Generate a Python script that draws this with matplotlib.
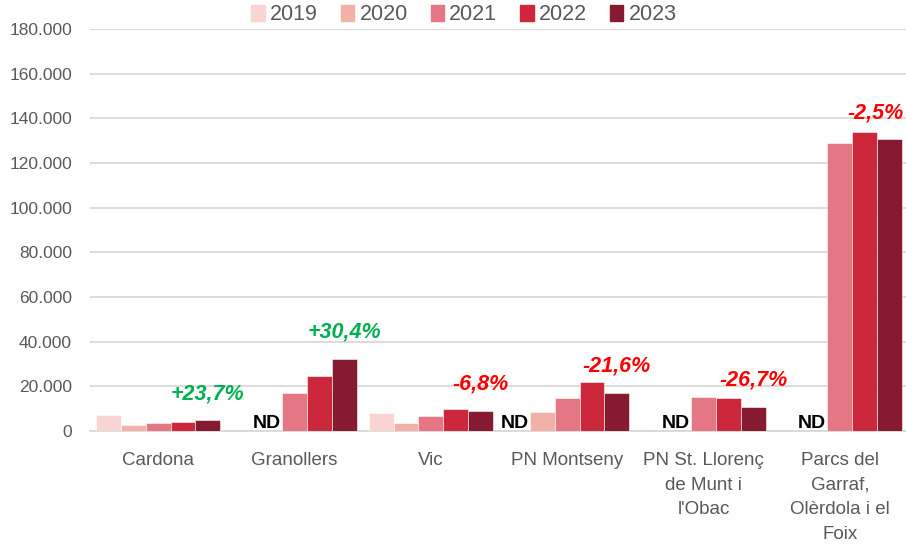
import matplotlib.pyplot as plt
import numpy as np
from matplotlib.patches import Patch
from matplotlib.ticker import FuncFormatter

plt.rcParams['font.family'] = ['Liberation Sans', 'DejaVu Sans']

# Visitants per equipament i any (NaN = sense dades)
llocs = ['Cardona', 'Granollers', 'Vic', 'PN Montseny',
         "PN St. Llorenç\nde Munt i\nl'Obac",
         'Parcs del\nGarraf,\nOlèrdola i el\nFoix']
anys = ['2019', '2020', '2021', '2022', '2023']
v2019 = [7200, np.nan, 7900, np.nan, np.nan, np.nan]
v2020 = [2700, np.nan, 3450, 8500, np.nan, np.nan]
v2021 = [3700, 16900, 6600, 14600, 15200, 128900]
v2022 = [4000, 24800, 9700, 21800, 14800, 134000]
v2023 = [4950, 32340, 9040, 17090, 10850, 130650]
variacio = [23.7, 30.4, -6.8, -21.6, -26.7, -2.5]
# posició (índex d'any) on s'escriu "ND"
nd_pos = [None, 1, None, 0, 1, 1]

colors = ['#F8D5D3', '#F2B1A6', '#E57785', '#CC273B', '#861A31']
gris = '#595959'

fig = plt.figure(figsize=(9.06, 5.47), dpi=100)
ax = fig.add_axes([90 / 906, 1 - 431 / 547, 818 / 906, 402 / 547])

x = np.arange(len(llocs))
w = 0.182
series = [v2019, v2020, v2021, v2022, v2023]
for i, (vals, c) in enumerate(zip(series, colors)):
    ax.bar(x + (i - 2) * w, vals, w, color=c, edgecolor='white',
           linewidth=0.4, zorder=3)

for g, p in enumerate(nd_pos):
    if p is not None:
        ax.text(g + (p - 2) * w - 0.02, 3200, 'ND', ha='center', va='center',
                fontsize=14, fontweight='bold', color='black', zorder=4)

for g, pct in enumerate(variacio):
    txt = f'{pct:+.1f}%'.replace('.', ',')
    col = '#00B050' if pct > 0 else '#FF0000'
    dx = -10 if g == len(llocs) - 1 else 0
    ax.annotate(txt, (g + 2 * w, v2023[g]), xytext=(dx, 19),
                textcoords='offset points', ha='center', va='center',
                fontsize=15.5, fontweight='bold', fontstyle='italic',
                color=col, zorder=4)

ax.set_xlim(-0.5, len(llocs) - 0.5)
ax.set_ylim(0, 180000)
ax.set_yticks(np.arange(0, 180001, 20000))
ax.yaxis.set_major_formatter(
    FuncFormatter(lambda v, _: f'{int(v):,}'.replace(',', '.')))
ax.set_xticks(x)
ax.set_xticklabels(llocs, fontsize=13.5, color=gris, linespacing=1.6)
ax.tick_params(axis='x', length=0, pad=15)
ax.tick_params(axis='y', length=0, pad=13, labelsize=12.5, labelcolor=gris)
ax.grid(axis='y', color='#D9D9D9', linewidth=1.3, zorder=0)
for s in ['top', 'right', 'left']:
    ax.spines[s].set_visible(False)
ax.spines['bottom'].set_color('#D9D9D9')
ax.spines['bottom'].set_linewidth(1.3)

handles = [Patch(color=c, label=a) for c, a in zip(colors, anys)]
fig.legend(handles=handles, loc='center', bbox_to_anchor=(464 / 906, 1 - 15 / 547),
           ncol=5, frameon=False, fontsize=15.5, handlelength=0.63,
           handleheight=0.75, handletextpad=0.24, columnspacing=1.06,
           labelcolor=gris)

fig.savefig('out.png', dpi=100)
